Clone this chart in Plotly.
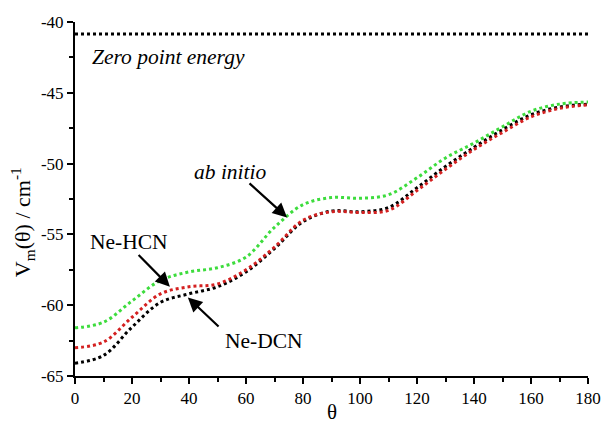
import plotly.graph_objects as go

theta = [0, 10, 20, 30, 40, 50, 60, 70, 80, 90, 100, 110, 120, 130, 140, 150, 160, 170, 180]
ab_initio = [-61.6, -61.2, -59.7, -58.25, -57.65, -57.35, -56.6, -54.5, -52.9, -52.4, -52.45, -52.2, -51.0, -49.6, -48.55, -47.4, -46.3, -45.8, -45.65]
ne_hcn = [-63.0, -62.6, -60.85, -59.2, -58.7, -58.5, -57.5, -55.9, -54.0, -53.4, -53.45, -53.3, -51.9, -50.4, -49.0, -47.8, -46.7, -46.1, -45.85]
ne_dcn = [-64.1, -63.55, -61.55, -59.8, -59.2, -58.7, -57.65, -56.0, -54.1, -53.35, -53.4, -53.1, -51.7, -50.2, -48.85, -47.6, -46.55, -46.0, -45.8]
zpe_x = [0, 180]
zpe_y = [-40.85, -40.85]

x_ticks = [0, 20, 40, 60, 80, 100, 120, 140, 160, 180]
x_tick_labels = ["0", "20", "40", "60", "80", "100", "120", "140", "160", "180"]
y_ticks = [-65, -60, -55, -50, -45, -40]
y_tick_labels = ["-65", "-60", "-55", "-50", "-45", "-40"]

SERIF = "Liberation Serif"

fig = go.Figure()
fig.add_trace(go.Scatter(x=zpe_x, y=zpe_y, mode="lines",
                         line=dict(color="black", width=3, dash="3px,3px")))
fig.add_trace(go.Scatter(x=theta, y=ne_dcn, mode="lines", line_shape="spline",
                         line=dict(color="black", width=3, dash="3px,3px")))
fig.add_trace(go.Scatter(x=theta, y=ne_hcn, mode="lines", line_shape="spline",
                         line=dict(color="#d42020", width=3, dash="3px,3px")))
fig.add_trace(go.Scatter(x=theta, y=ab_initio, mode="lines", line_shape="spline",
                         line=dict(color="#3ddc3d", width=3, dash="3px,3px")))

texts = [
    dict(x=5.3, y=-42.45, text="<i>Zero point energy</i>", xanchor="left"),
    dict(x=54.7, y=-50.6, text="<i>ab initio</i>", xanchor="center"),
    dict(x=4.6, y=-55.55, text="Ne-HCN", xanchor="left"),
    dict(x=52.0, y=-62.5, text="Ne-DCN", xanchor="left"),
]
for t in texts:
    fig.add_annotation(x=t["x"], y=t["y"], text=t["text"], xanchor=t["xanchor"],
                       yanchor="middle", showarrow=False,
                       font=dict(family=SERIF, size=21.5, color="black"))

arrows = [
    ((60.7, -51.3), (74.4, -53.8)),
    ((21.8, -56.35), (33.3, -58.7)),
    ((50.9, -61.6), (39.6, -59.45)),
]
for (tx, ty), (hx, hy) in arrows:
    fig.add_annotation(x=hx, y=hy, ax=tx, ay=ty, axref="x", ayref="y", xref="x", yref="y",
                       text="", showarrow=True, arrowhead=2, arrowsize=1.3,
                       arrowwidth=2.2, arrowcolor="black", standoff=0, startstandoff=0)

# axis titles
fig.add_annotation(xref="paper", yref="paper", x=-0.103, y=0.435, textangle=-90,
                   text="V<sub>m</sub>(θ) / cm<sup>-1</sup>", showarrow=False,
                   xanchor="center", yanchor="middle",
                   font=dict(family=SERIF, size=22, color="black"))
fig.add_annotation(xref="paper", yref="paper", x=0.5, y=-0.1017,
                   text="θ", showarrow=False, xanchor="center", yanchor="middle", borderpad=0,
                   font=dict(family=SERIF, size=21, color="black"))

fig.update_layout(
    width=606, height=426,
    margin=dict(l=75, r=18, t=22, b=50, autoexpand=False),
    paper_bgcolor="white", plot_bgcolor="white",
    showlegend=False,
    font=dict(family=SERIF, size=15, color="black"),
)
fig.update_xaxes(range=[0, 180], tickvals=x_ticks, ticktext=x_tick_labels, automargin=False,
                 showgrid=False, zeroline=False, showline=True, linecolor="black", linewidth=2,
                 ticks="outside", ticklen=6, tickwidth=2, tickcolor="black",
                 minor=dict(dtick=10, ticks="outside", ticklen=4, tickwidth=2, tickcolor="black"),
                 tickfont=dict(family=SERIF, size=17))
fig.update_yaxes(range=[-65, -40], tickvals=y_ticks, ticktext=y_tick_labels, automargin=False,
                 showgrid=False, zeroline=False, showline=True, linecolor="black", linewidth=2,
                 ticks="outside", ticklen=6, tickwidth=2, tickcolor="black",
                 minor=dict(dtick=2.5, ticks="outside", ticklen=4, tickwidth=2, tickcolor="black"),
                 tickfont=dict(family=SERIF, size=17))

fig.write_html("out.html", config={"displayModeBar": False},
               post_script="document.body.style.margin='0';document.body.style.overflow='hidden';")
